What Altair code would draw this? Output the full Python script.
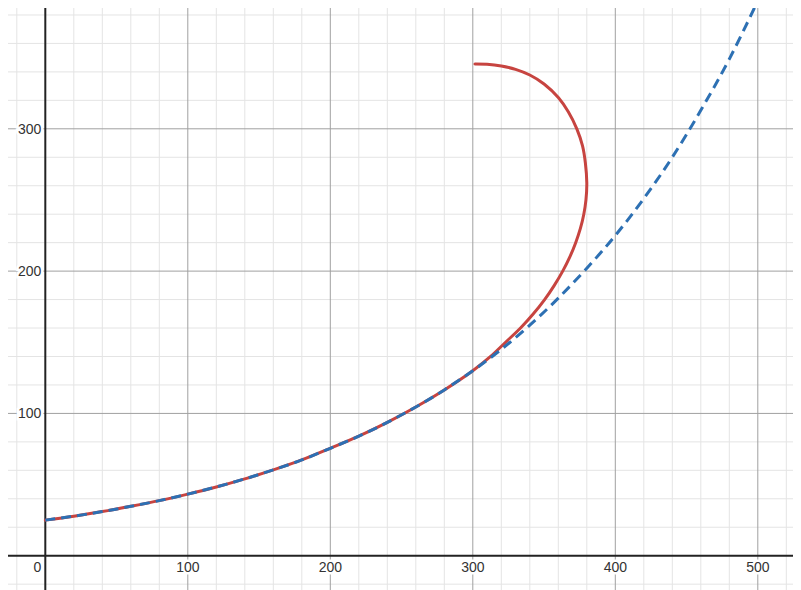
import altair as alt
import pandas as pd

# ---- data ----
blue_x = [0, 20, 40, 60, 80, 100, 120, 140, 160, 180, 200, 220, 240, 260, 280,
          300, 320, 340, 360, 380, 400, 420, 440, 460, 480, 500]
blue_y = [25, 27.8, 31, 34.7, 38.7, 43.3, 48.3, 54, 60.3, 67.3, 75.5, 84, 93.7,
          104.5, 116.5, 130, 145, 162, 181, 202, 225, 251, 280, 313, 349, 390]

red_x = [0, 20, 40, 60, 80, 100, 120, 140, 160, 180, 200, 220, 240, 260, 280,
         300, 312.5, 323, 333.5, 342.5, 350.4, 357.2, 363.1, 368.1, 372.2,
         375.5, 377.9, 379.4, 380, 379, 377, 373, 367, 360, 350, 340,
         330, 320, 310, 301.5]
red_y = [25, 27.8, 31, 34.7, 38.7, 43.3, 48.3, 54, 60.3, 67.3, 75.5, 84, 93.7,
         104.5, 116.5, 130, 140, 150, 160, 170, 180, 190, 200, 210, 220,
         230, 240, 250, 262, 276, 288, 300, 312, 322, 331.5, 337.8,
         341.8, 344.1, 345.3, 345.5]

x_major = [100, 200, 300, 400, 500]
y_major = [100, 200, 300]
x_minor = [-20, 20, 40, 60, 80, 120, 140, 160, 180, 220, 240, 260, 280, 320,
           340, 360, 380, 420, 440, 460, 480, 520]
y_minor = [-20, 20, 40, 60, 80, 120, 140, 160, 180, 220, 240, 260, 280, 320,
           340, 360, 380]
x_labels = ["100", "200", "300", "400", "500"]
y_labels = ["100", "200", "300"]
origin_label = ["0"]

X_DOM = [-26.18, 524.7]
Y_DOM = [-24.1, 384.9]
xs = alt.Scale(domain=X_DOM, nice=False, zero=False)
ys = alt.Scale(domain=Y_DOM, nice=False, zero=False)

FONT = "Liberation Sans"

def vrules(vals, color, width):
    return alt.Chart(pd.DataFrame({"v": vals})).mark_rule(
        color=color, strokeWidth=width).encode(
        x=alt.X("v:Q", scale=xs, axis=None))

def hrules(vals, color, width):
    return alt.Chart(pd.DataFrame({"v": vals})).mark_rule(
        color=color, strokeWidth=width).encode(
        y=alt.Y("v:Q", scale=ys, axis=None))

minor_c = "#e4e4e4"
major_c = "#a0a0a0"

grid = (vrules(x_minor, minor_c, 1) + hrules(y_minor, minor_c, 1) +
        vrules(x_major, major_c, 1) + hrules(y_major, major_c, 1))
axes = vrules([0], "#222222", 2) + hrules([0], "#222222", 2)

xl_df = pd.DataFrame({"v": x_major, "t": x_labels, "z": [0] * len(x_major)})
yl_df = pd.DataFrame({"v": y_major, "t": y_labels, "z": [0] * len(y_major)})
o_df = pd.DataFrame({"v": [0], "t": origin_label})

def xlab(halo):
    kw = dict(stroke="white", strokeWidth=5, fill="white") if halo else dict(color="#333333")
    return alt.Chart(xl_df).mark_text(font=FONT, fontSize=14, align="center",
                                      baseline="alphabetic", dy=16, **kw).encode(
        x=alt.X("v:Q", scale=xs, axis=None), y=alt.Y("z:Q", scale=ys, axis=None),
        text="t:N")

def ylab(halo):
    kw = dict(stroke="white", strokeWidth=5, fill="white") if halo else dict(color="#333333")
    return alt.Chart(yl_df).mark_text(font=FONT, fontSize=14, align="right",
                                      baseline="alphabetic", dx=-4, dy=5, **kw).encode(
        x=alt.X("z:Q", scale=xs, axis=None), y=alt.Y("v:Q", scale=ys, axis=None),
        text="t:N")

olab = alt.Chart(o_df).mark_text(font=FONT, fontSize=14, align="right",
                                 baseline="alphabetic", dx=-4, dy=16,
                                 color="#333333").encode(
    x=alt.X("v:Q", scale=xs, axis=None), y=alt.Y("v:Q", scale=ys, axis=None),
    text="t:N")

red_df = pd.DataFrame({"x": red_x, "y": red_y, "o": list(range(len(red_x)))})
blue_df = pd.DataFrame({"x": blue_x, "y": blue_y})

red = alt.Chart(red_df).mark_line(color="#c74440", strokeWidth=3,
                                  interpolate="catmull-rom", clip=True,
                                  strokeCap="round").encode(
    x=alt.X("x:Q", scale=xs, axis=None), y=alt.Y("y:Q", scale=ys, axis=None),
    order="o:Q")

blue = alt.Chart(blue_df).mark_line(color="#2d70b3", strokeWidth=3,
                                    interpolate="monotone", clip=True,
                                    strokeDash=[10, 6]).encode(
    x=alt.X("x:Q", scale=xs, axis=None), y=alt.Y("y:Q", scale=ys, axis=None))

chart = alt.layer(grid, axes, xlab(True), xlab(False), ylab(True), ylab(False),
                  olab, red, blue).properties(
    width=785, height=582,
    autosize=alt.AutoSizeParams(type="none"),
    padding=0,
    background="white",
).configure_view(stroke=None)

chart.save("out.html", embed_options={"renderer": "svg", "actions": False})
